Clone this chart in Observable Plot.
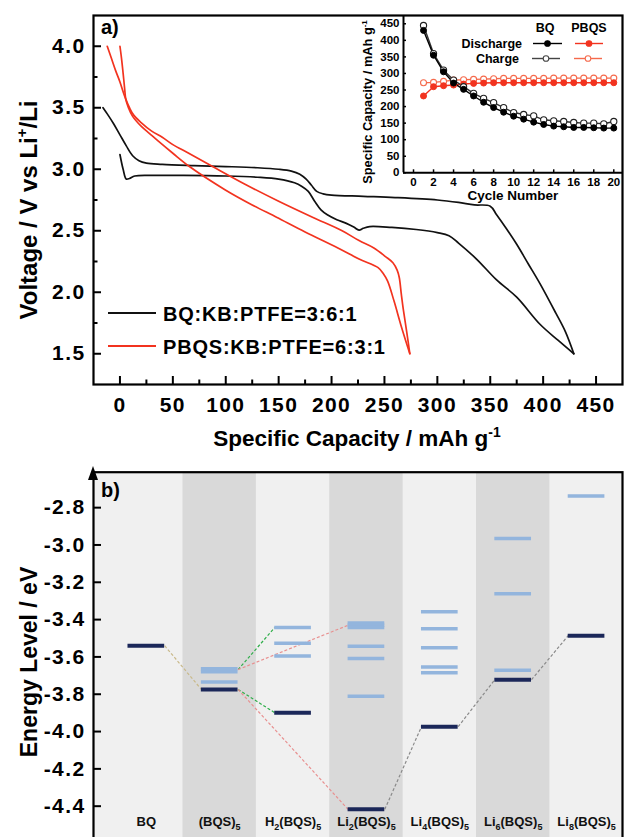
<!DOCTYPE html>
<html><head><meta charset="utf-8">
<script src="https://cdn.jsdelivr.net/npm/d3@7"></script>
<script src="https://cdn.jsdelivr.net/npm/@observablehq/plot@0.6"></script>
<style>
html,body{margin:0;padding:0;background:#fff;overflow:hidden;width:624px;height:837px}
#wrap{position:relative;width:624px;height:837px;overflow:hidden}
#a,#inset,#b{position:absolute;left:0;width:624px}
#a{top:0}#inset{top:0}#b{top:460px}
</style></head><body><div id="wrap"><div id="a"></div><div id="inset"></div><div id="b"></div></div>
<script>
// ---------- Panel a: voltage profiles [capacity mAh/g, voltage V] ----------
const bqCurve1 = [[-16,3.50],[-12,3.45],[-6,3.37],[0,3.28],[6,3.19],[12,3.11],[18,3.07],[25,3.05],[40,3.04],[70,3.03],[100,3.022],[130,3.012],[150,3.0],[162,2.985],[170,2.96],[176,2.92],[181,2.87],[186,2.82],[192,2.80],[200,2.79],[230,2.78],[260,2.77],[300,2.75],[320,2.73],[335,2.71],[350,2.70],[356,2.63],[365,2.52],[375,2.39],[386,2.23],[397,2.07],[412,1.83],[421,1.68],[429,1.5]];
const bqCurve2 = [[0,3.12],[3,3.0],[6,2.92],[9,2.925],[14,2.945],[30,2.95],[60,2.95],[100,2.945],[130,2.935],[150,2.92],[165,2.89],[172,2.86],[178,2.82],[184,2.74],[190,2.67],[196,2.63],[205,2.59],[214,2.56],[221,2.53],[226,2.505],[230,2.52],[236,2.534],[257,2.527],[280,2.51],[300,2.485],[311,2.46],[320,2.40],[337,2.27],[356,2.10],[375,1.96],[397,1.74],[414,1.61],[429,1.5]];
const pbqsCurve1 = [[-12,4.0],[-8,3.9],[-4,3.8],[0,3.71],[3,3.63],[5.5,3.57],[9,3.5],[13,3.44],[20,3.38],[30,3.31],[40,3.26],[50,3.2],[65,3.13],[88,3.02],[120,2.87],[150,2.74],[182,2.61],[210,2.5],[226,2.42],[240,2.36],[251,2.29],[258,2.24],[262,2.18],[264,2.12],[266,1.98],[268,1.85],[271,1.68],[274,1.5]];
const pbqsCurve2 = [[0,4.0],[1.5,3.9],[3,3.78],[4.5,3.65],[5.5,3.57],[8,3.5],[12,3.43],[20,3.35],[28,3.29],[36,3.23],[50,3.13],[66,3.02],[100,2.83],[125,2.71],[148,2.61],[175,2.49],[206,2.36],[226,2.27],[244,2.2],[249,2.15],[253,2.09],[259,1.93],[266,1.72],[274,1.5]];
const voltTicks = [1.5,2.0,2.5,3.0,3.5,4.0];
const voltMinor = [1.75,2.25,2.75,3.25,3.75];
const capTicks = [0,50,100,150,200,250,300,350,400,450];
const capMinor = [25,75,125,175,225,275,325,375,425];
const legendLabels = ["BQ:KB:PTFE=3:6:1","PBQS:KB:PTFE=6:3:1"];

// ---------- Inset: cycling ----------
const cycles = [1,2,3,4,5,6,7,8,9,10,11,12,13,14,15,16,17,18,19,20];
const bqDischarge = [430,355,305,271,252,232,213,197,183,171,162,153,146,141,139,137,137,136,135,135];
const bqCharge = [445,360,310,280,260,240,225,212,197,182,176,172,160,157,155,152,150,150,148,155];
const pbqsDischarge = [232,260,263,265,268,270,271,272,272,272,272,272,272,272,272,272,272,272,272,272];
const pbqsCharge = [272,273,276,280,281,282,283,284,285,285,285,285,285,286,286,286,286,286,286,286];
const insetYTicks = [0,50,100,150,200,250,300,350,400,450];
const insetXTicks = [0,2,4,6,8,10,12,14,16,18,20];

// ---------- Panel b: energy levels ----------
const species = ["BQ","(BQS)_5","H_2(BQS)_5","Li_2(BQS)_5","Li_4(BQS)_5","Li_6(BQS)_5","Li_8(BQS)_5"];
const darkLevels = [-3.54,-3.774,-3.899,-4.417,-3.974,-3.722,-3.486];
const lightLevels = [[1,-3.664],[1,-3.680],[1,-3.735],[2,-3.443],[2,-3.527],[2,-3.595],[3,-3.418],[3,-3.430],[3,-3.442],[3,-3.543],[3,-3.608],[3,-3.811],[4,-3.358],[4,-3.449],[4,-3.551],[4,-3.654],[4,-3.685],[5,-2.966],[5,-3.261],[5,-3.672],[6,-2.737]];
const linksTan = [[0,-3.54,1,-3.774]];
const linksGreen = [[1,-3.668,2,-3.443],[1,-3.774,2,-3.899]];
const linksRed = [[1,-3.668,3,-3.43],[1,-3.774,3,-4.417]];
const linksGray = [[3,-4.417,4,-3.974],[4,-3.974,5,-3.722],[5,-3.722,6,-3.486]];
const energyTicks = [-4.4,-4.2,-4.0,-3.8,-3.6,-3.4,-3.2,-3.0,-2.8];

const FONT = "'Liberation Sans', Arial, Helvetica, sans-serif";
const BLACK = "#111";
const RED = "#f2331f";
const RED2 = "#f56a4c";

function rich(parent, segs, o) {
  const t = parent.append("text")
    .attr("font-family", FONT).attr("font-weight", "bold")
    .attr("font-size", o.size).attr("fill", o.fill || "#000")
    .attr("text-anchor", o.anchor || "start");
  if (o.ls) t.attr("letter-spacing", o.ls);
  if (o.rotate) t.attr("transform", `translate(${o.x},${o.y}) rotate(${o.rotate})`);
  else t.attr("x", o.x).attr("y", o.y);
  let shift = 0;
  for (const s of segs) {
    const [str, kind] = Array.isArray(s) ? s : [s, null];
    const target = kind === "sup" ? -o.size * 0.42 : kind === "sub" ? o.size * 0.28 : 0;
    const ts = t.append("tspan").text(str).attr("dy", target - shift);
    if (kind) ts.attr("font-size", o.size * 0.62);
    shift = target;
  }
  return t;
}
// tick-length helper (pixel length -> data units of a linear scale)
const unit = (dom, px0, px1) => (dom[1] - dom[0]) / (px1 - px0);

// ================= Panel a =================
const aX = [-25, 475], aY = [1.25, 4.25];
const ax = unit(aX, 93, 622), ay = unit(aY, 15, 384);
const P = d => d[0], V = d => d[1];
const tickStyle = {stroke: "#000", strokeWidth: 2};
const pa = Plot.plot({
  width: 624, height: 460,
  marginLeft: 93, marginRight: 2, marginTop: 15, marginBottom: 76,
  style: {fontFamily: FONT, fontWeight: "bold", background: "transparent", overflow: "visible"},
  x: {domain: aX},
  y: {domain: aY},
  marks: [
    Plot.line(bqCurve1, {x: P, y: V, stroke: BLACK, strokeWidth: 1.7, curve: "catmull-rom"}),
    Plot.line(bqCurve2, {x: P, y: V, stroke: BLACK, strokeWidth: 1.7, curve: "catmull-rom"}),
    Plot.line(pbqsCurve1, {x: P, y: V, stroke: RED, strokeWidth: 1.7, curve: "catmull-rom"}),
    Plot.line(pbqsCurve2, {x: P, y: V, stroke: RED, strokeWidth: 1.7, curve: "catmull-rom"}),
    Plot.axisY(voltTicks, {tickSize: 0, tickPadding: 8, tickFormat: d => d.toFixed(1), label: null, fontSize: 21, fill: "#000"}),
    Plot.ruleY(voltTicks, {y: d => d, x1: aX[0], x2: aX[0] + 8 * ax, ...tickStyle}),
    Plot.ruleY(voltMinor, {y: d => d, x1: aX[0], x2: aX[0] + 4.5 * ax, ...tickStyle}),
    Plot.axisX(capTicks, {tickSize: 0, tickPadding: 13, tickFormat: d => String(d), label: null, fontSize: 21, fill: "#000"}),
    Plot.ruleX(capTicks, {x: d => d, y1: aY[0], y2: aY[0] + 8 * ay, ...tickStyle}),
    Plot.ruleX(capMinor, {x: d => d, y1: aY[0], y2: aY[0] + 4.5 * ay, ...tickStyle}),
    Plot.frame({stroke: "#000", strokeWidth: 2.2})
  ]
});
document.getElementById("a").appendChild(pa);
{
  const s = d3.select(pa);
  rich(s, ["a)"], {x: 101, y: 34, size: 20});
  rich(s, ["Voltage / V vs Li", ["+", "sup"], "/Li"], {x: 37, y: 210, size: 24, anchor: "middle", rotate: -90});
  rich(s, ["Specific Capacity / mAh g", ["-1", "sup"]], {x: 357, y: 446, size: 22.5, anchor: "middle"});
  const lg = [[313, BLACK, legendLabels[0]], [346, RED, legendLabels[1]]];
  for (const [y, c, t] of lg) {
    s.append("line").attr("x1", 108).attr("x2", 156).attr("y1", y).attr("y2", y).attr("stroke", c).attr("stroke-width", 1.8);
    rich(s, [t], {x: 163, y: y + 7.5, size: 20, ls: 0.8});
  }
}

// ================= Inset =================
const iX = [-1, 20.87], iY = [0, 475];
const ix = unit(iX, 403, 622), iy = unit(iY, 15, 172.3);
const C = (d, i) => cycles[i];
const ins = Plot.plot({
  width: 624, height: 230,
  marginLeft: 403, marginRight: 2, marginTop: 15, marginBottom: 57.7,
  style: {fontFamily: FONT, fontWeight: "bold", background: "transparent", overflow: "visible"},
  x: {domain: iX},
  y: {domain: iY},
  marks: [
    Plot.line(pbqsCharge, {x: C, y: d => d, stroke: RED2, strokeWidth: 1.4}),
    Plot.line(pbqsDischarge, {x: C, y: d => d, stroke: RED, strokeWidth: 1.4}),
    Plot.line(bqCharge, {x: C, y: d => d, stroke: "#333", strokeWidth: 1.4}),
    Plot.line(bqDischarge, {x: C, y: d => d, stroke: "#000", strokeWidth: 1.4}),
    Plot.dot(pbqsCharge, {x: C, y: d => d, r: 3, fill: "#fff", stroke: RED2, strokeWidth: 1.1}),
    Plot.dot(pbqsDischarge, {x: C, y: d => d, r: 3, fill: RED, stroke: RED, strokeWidth: 1}),
    Plot.dot(bqCharge, {x: C, y: d => d, r: 3.1, fill: "#fff", stroke: "#222", strokeWidth: 1.1}),
    Plot.dot(bqDischarge, {x: C, y: d => d, r: 3, fill: "#000", stroke: "#000", strokeWidth: 1}),
    Plot.ruleX([iX[0]], {stroke: "#000", strokeWidth: 2}),
    Plot.ruleY([0], {stroke: "#000", strokeWidth: 2}),
    Plot.axisY(insetYTicks, {tickSize: 0, tickPadding: 4, tickFormat: d => String(d), label: null, fontSize: 11.5, fill: "#000"}),
    Plot.ruleY(insetYTicks, {y: d => d, x1: iX[0], x2: iX[0] + 3 * ix, stroke: "#000", strokeWidth: 1.5}),
    Plot.axisX(insetXTicks, {tickSize: 0, tickPadding: 5, tickFormat: d => String(d), label: null, fontSize: 11.5, fill: "#000"}),
    Plot.ruleX(insetXTicks, {x: d => d, y1: 0, y2: 3 * iy, stroke: "#000", strokeWidth: 1.5})
  ]
});
document.getElementById("inset").appendChild(ins);
{
  const s = d3.select(ins);
  rich(s, ["Specific Capacity / mAh g", ["-1", "sup"]], {x: 372, y: 102, size: 12.8, anchor: "middle", rotate: -90});
  rich(s, ["Cycle Number"], {x: 513, y: 200, size: 13.5, anchor: "middle"});
  rich(s, ["BQ"], {x: 545, y: 32, size: 12.5, anchor: "middle"});
  rich(s, ["PBQS"], {x: 589, y: 32, size: 12.5, anchor: "middle"});
  rich(s, ["Discharge"], {x: 522, y: 48, size: 12.5, anchor: "end"});
  rich(s, ["Charge"], {x: 519, y: 63, size: 12.5, anchor: "end"});
  const rows = [[533, 562, 43.5, "#000", "#000"], [575, 603, 43.5, RED, RED], [532, 560, 58.5, "#444", "#fff"], [574, 602, 58.5, RED2, "#fff"]];
  for (const [x1, x2, y, c, f] of rows) {
    s.append("line").attr("x1", x1).attr("x2", x2).attr("y1", y).attr("y2", y).attr("stroke", c).attr("stroke-width", 1.4);
    s.append("circle").attr("cx", (x1 + x2) / 2).attr("cy", y).attr("r", 2.8).attr("fill", f).attr("stroke", c).attr("stroke-width", 1.1);
  }
}

// ================= Panel b =================
const bX = [-0.72, 6.49], bY = [-4.6, -2.61];
const bx = unit(bX, 93, 622);
const bands = species.map((s, i) => ({i})).filter(d => d.i % 2 === 1);
const linkOpts = (c) => ({x1: d => d[0] + 0.25, y1: d => d[1], x2: d => d[2] - 0.25, y2: d => d[3], stroke: c, strokeWidth: 1.2, strokeDasharray: "3,2"});
const pb = Plot.plot({
  width: 624, height: 383,
  marginLeft: 93, marginRight: 2, marginTop: 11.7, marginBottom: 0,
  style: {fontFamily: FONT, fontWeight: "bold", background: "transparent", overflow: "visible"},
  x: {domain: bX, axis: null},
  y: {domain: bY},
  marks: [
    Plot.frame({fill: "#f0f0f0", stroke: null}),
    Plot.rect(bands, {x1: d => d.i - 0.5, x2: d => d.i + 0.5, fill: "#d9d9d9"}),
    Plot.link(linksTan, linkOpts("#c9b98a")),
    Plot.link(linksGreen, linkOpts("#2fae4a")),
    Plot.link(linksRed, linkOpts("#e89090")),
    Plot.link(linksGray, linkOpts("#8a8a8a")),
    Plot.ruleY(lightLevels, {y: d => d[1], x1: d => d[0] - 0.25, x2: d => d[0] + 0.25, stroke: "#93b5dd", strokeWidth: 3.5}),
    Plot.ruleY(darkLevels, {y: d => d, x1: (d, i) => i - 0.25, x2: (d, i) => i + 0.25, stroke: "#1b2759", strokeWidth: 4}),
    Plot.text(species, {x: (d, i) => i, text: d => d, frameAnchor: "bottom", dy: -18, fontSize: 13, fill: "#111"}),
    Plot.axisY(energyTicks, {tickSize: 0, tickPadding: 8, tickFormat: d => d.toFixed(1), label: null, fontSize: 21, fill: "#000"}),
    Plot.ruleY(energyTicks, {y: d => d, x1: bX[0], x2: bX[0] + 8 * bx, stroke: "#000", strokeWidth: 2}),
    Plot.frame({stroke: "#000", strokeWidth: 2.2})
  ]
});
document.getElementById("b").appendChild(pb);
{
  const s = d3.select(pb);
  s.selectAll("text").filter(function() { return /_\d/.test(this.textContent); }).each(function() {
    const el = d3.select(this);
    const raw = this.textContent;
    el.text(null);
    const parts = raw.split(/_(\d)/);
    let shift = 0;
    parts.forEach((p, k) => {
      if (!p) return;
      const isSub = k % 2 === 1;
      const target = isSub ? 4 : 0;
      const ts = el.append("tspan").text(p).attr("dy", target - shift);
      if (isSub) ts.attr("font-size", 9);
      shift = target;
    });
  });
  s.append("path").attr("d", "M88,20 L93,6 L98,20 Z").attr("fill", "#000");
  rich(s, ["b)"], {x: 101, y: 37, size: 20});
  rich(s, ["Energy Level / eV"], {x: 37, y: 202, size: 23, anchor: "middle", rotate: -90});
}
// widen main tick labels like the reference typeface
d3.selectAll("#a svg g[aria-label$='tick label'] text, #b svg g[aria-label$='tick label'] text").attr("letter-spacing", 1.4);
</script></body></html>
